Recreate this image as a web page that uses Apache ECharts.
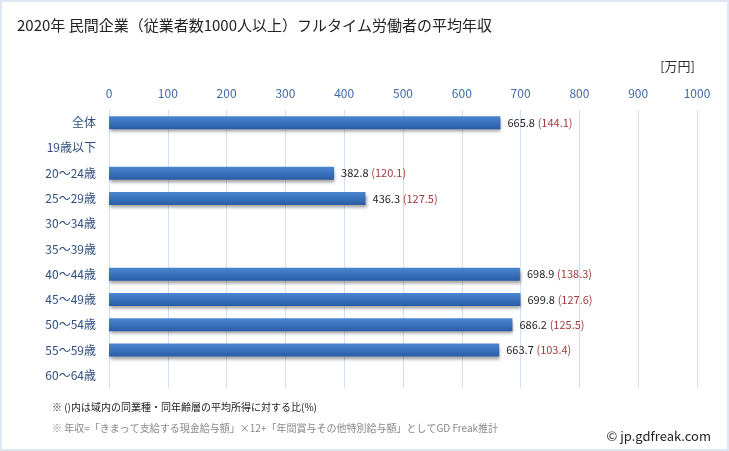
<!DOCTYPE html>
<html><head><meta charset="utf-8">
<script src="https://cdn.jsdelivr.net/npm/echarts@6/dist/echarts.min.js"></script>
<style>html,body{margin:0;padding:0;background:#fff}#c{width:729px;height:451px;box-sizing:border-box;border:2px solid #dce7f3}</style>
</head><body><div id="c"></div>
<script>
var categories = ['全体','19歳以下','20～24歳','25～29歳','30～34歳','35～39歳','40～44歳','45～49歳','50～54歳','55～59歳','60～64歳'];
var values = [665.8, null, 382.8, 436.3, null, null, 698.9, 699.8, 686.2, 663.7, null];
var ratios = [144.1, null, 120.1, 127.5, null, null, 138.3, 127.6, 125.5, 103.4, null];
var xTicks = [0,100,200,300,400,500,600,700,800,900,1000];

var chart = echarts.init(document.getElementById('c'), null, {renderer:'canvas'});
var font = '"Noto Sans CJK JP", "Noto Sans", sans-serif';
var data = values.map(function(v,i){ return {value: v, ratio: ratios[i]}; });
chart.setOption({
  animation: false,
  textStyle: {fontFamily: font},
  title: {text: '2020年 民間企業（従業者数1000人以上）フルタイム労働者の平均年収', left: 10, top: 11,
    textStyle: {fontSize: 15, fontWeight: 'normal', color: '#222', fontFamily: font}},
  grid: {left: 107, right: 30, top: 108, bottom: 61, containLabel: false},
  xAxis: {type: 'value', position: 'top', min: xTicks[0], max: xTicks[xTicks.length-1], interval: 100,
    axisLine: {show: false}, axisTick: {show: false},
    axisLabel: {color: '#3f6aa6', fontSize: 12, margin: 11, fontFamily: font, formatter: function(v){ return String(v); }},
    splitLine: {lineStyle: {color: '#cfe0f2', width: 1}}},
  yAxis: {type: 'category', inverse: true, data: categories,
    axisLine: {lineStyle: {color: '#cfe0f2'}}, axisTick: {show: false},
    axisLabel: {color: '#2f4f7f', fontSize: 12, margin: 13, fontFamily: font}},
  series: [{type: 'bar', data: data, barWidth: 13,
    itemStyle: {color: new echarts.graphic.LinearGradient(0,0,0,1,[{offset:0,color:'#4a86d2'},{offset:1,color:'#2b5ca5'}]),
      shadowColor: 'rgba(0,0,0,0.35)', shadowBlur: 3, shadowOffsetY: 3, shadowOffsetX: 1},
    label: {show: true, position: 'right', distance: 7,
      formatter: function(p){ if (p.value == null) return ''; return '{v|' + p.value.toFixed(1) + '} {r|(' + p.data.ratio.toFixed(1) + ')}'; },
      rich: {v: {color: '#222', fontSize: 11, fontFamily: font}, r: {color: '#a33c3c', fontSize: 11, fontFamily: font}}}
  }],
  graphic: [
    {type: 'text', right: 32, top: 58, style: {text: '[万円]', fill: '#333', fontSize: 13, fontFamily: font}},
    {type: 'text', left: 50, top: 400, style: {text: '※ ()内は域内の同業種・同年齢層の平均所得に対する比(%)', fill: '#222', fontSize: 10, fontFamily: font}},
    {type: 'text', left: 50, top: 421, style: {text: '※ 年収=「きまって支給する現金給与額」×12+「年間賞与その他特別給与額」としてGD Freak推計', fill: '#888', fontSize: 10, fontFamily: font}},
    {type: 'text', right: 16, top: 428, style: {text: '© jp.gdfreak.com', fill: '#222', fontSize: 13, fontFamily: font}}
  ]
});
</script></body></html>
